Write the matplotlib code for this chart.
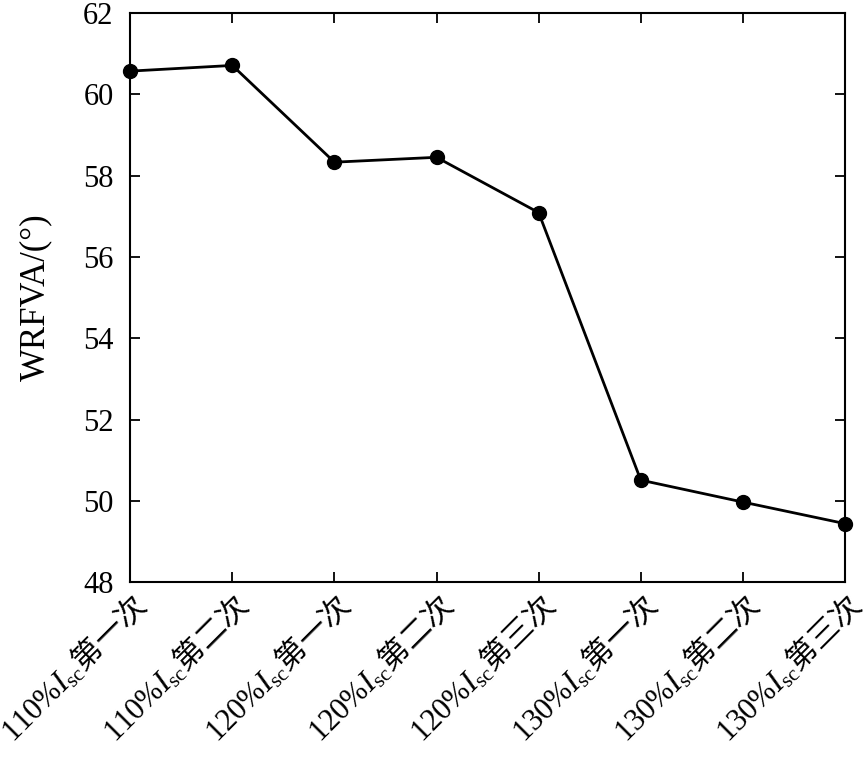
import matplotlib
matplotlib.use("Agg")
import matplotlib.pyplot as plt

plt.rcParams['font.family'] = ['Liberation Serif', 'Noto Sans CJK SC']
plt.rcParams['mathtext.fontset'] = 'custom'
plt.rcParams['mathtext.rm'] = 'Liberation Serif'
plt.rcParams['mathtext.it'] = 'Liberation Serif:italic'

currents = ['110', '110', '120', '120', '120', '130', '130', '130']
counts = ['第一次', '第二次', '第一次', '第二次', '第三次', '第一次', '第二次', '第三次']
wrfva = [60.57, 60.71, 58.33, 58.45, 57.09, 50.51, 49.97, 49.44]

labels = [r'$\mathrm{' + c + r'\%}\mathit{I}_{\mathrm{sc}}$' + n
          for c, n in zip(currents, counts)]
x = list(range(len(wrfva)))

fig = plt.figure(figsize=(8.68, 7.63), dpi=100)
ax = fig.add_axes([0.150, 0.237, 0.8235, 0.746])

ax.plot(x, wrfva, color='black', lw=2.0, marker='o', ms=10, clip_on=False, zorder=3)

ax.set_xlim(0, 7)
ax.set_ylim(48, 62)
ax.set_yticks(range(48, 63, 2))
ax.set_xticks(x)
ax.set_xticklabels(labels, rotation=45, ha='right', va='top',
                   rotation_mode='anchor', fontsize=25,
                   family='Noto Sans CJK SC')
ax.set_ylabel('WRFVA/(°)', fontsize=25, labelpad=22)

ax.tick_params(direction='in', length=7, width=1.3, top=True, right=True,
               labelsize=22, pad=12)
ax.tick_params(axis='x', pad=4)
for s in ax.spines.values():
    s.set_linewidth(1.5)

fig.savefig('out.png', dpi=100)
